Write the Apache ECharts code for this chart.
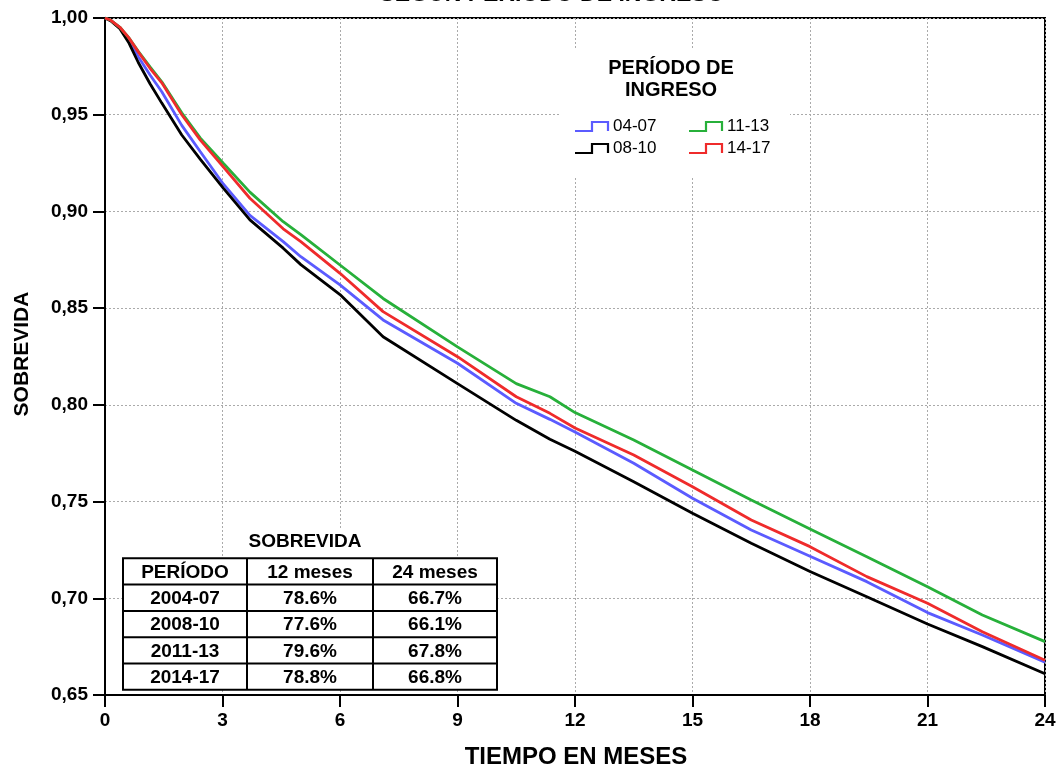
<!DOCTYPE html>
<html>
<head>
<meta charset="utf-8">
<script src="https://cdn.jsdelivr.net/npm/echarts@6/dist/echarts.min.js"></script>
<style>
html,body{margin:0;padding:0;background:#fff;}
#chart{width:1062px;height:772px;}
</style>
</head>
<body>
<div id="chart"></div>
<script>
// ---- data ----
const months = [0, 0.15, 0.38, 0.6, 0.85, 1.15, 1.45, 1.96, 2.43, 3.02, 3.7, 4.55, 5.0, 6.0, 7.1, 9.0, 10.5, 11.36, 12.0, 13.5, 15.0, 16.5, 18.0, 19.45, 21.0, 22.4, 24.0];
const seriesNames = ['04-07', '08-10', '11-13', '14-17'];
const surv0407 = [1, 0.9987, 0.995, 0.989, 0.980, 0.9705, 0.9619, 0.9445, 0.931, 0.9142, 0.898, 0.8844, 0.8766, 0.862, 0.8439, 0.8215, 0.8008, 0.7925, 0.786, 0.7698, 0.7517, 0.7353, 0.7217, 0.7086, 0.6926, 0.681, 0.667];
const surv0810 = [1, 0.9985, 0.9945, 0.9875, 0.977, 0.966, 0.956, 0.9395, 0.927, 0.912, 0.8956, 0.881, 0.8725, 0.857, 0.8352, 0.811, 0.792, 0.7822, 0.776, 0.7603, 0.744, 0.7284, 0.7138, 0.7008, 0.6867, 0.675, 0.661];
const surv1113 = [1, 0.9988, 0.9952, 0.990, 0.9828, 0.9748, 0.967, 0.951, 0.938, 0.9249, 0.910, 0.8947, 0.888, 0.8723, 0.855, 0.830, 0.811, 0.8042, 0.796, 0.7818, 0.7663, 0.7508, 0.7358, 0.7215, 0.706, 0.6914, 0.6776];
const surv1417 = [1, 0.9988, 0.9952, 0.990, 0.9825, 0.974, 0.9665, 0.950, 0.937, 0.923, 0.9068, 0.891, 0.8844, 0.868, 0.8482, 0.8249, 0.8042, 0.7956, 0.788, 0.7741, 0.7577, 0.7405, 0.7267, 0.7112, 0.6974, 0.6827, 0.668];
const xTicks = [0, 3, 6, 9, 12, 15, 18, 21, 24];
const yTicks = [0.65, 0.70, 0.75, 0.80, 0.85, 0.90, 0.95, 1.00];
const tablePeriods = ['2004-07', '2008-10', '2011-13', '2014-17'];
const table12 = ['78.6%', '77.6%', '79.6%', '78.8%'];
const table24 = ['66.7%', '66.1%', '67.8%', '66.8%'];
const tableHeader = ['PERÍODO', '12 meses', '24 meses'];

const FONT = '"Liberation Sans", Arial, sans-serif';
const colors = ['#5b5bff', '#000000', '#27b03a', '#ef2b2b'];
const allSurv = [surv0407, surv0810, surv1113, surv1417];

const chart = echarts.init(document.getElementById('chart'), null, {renderer: 'canvas'});

const series = seriesNames.map((name, i) => ({
  name: name,
  type: 'line',
  showSymbol: false,
  symbol: 'none',
  data: months.map((m, j) => [m, allSurv[i][j]]),
  lineStyle: {color: colors[i], width: 2.8},
  itemStyle: {color: colors[i]},
  z: 3 + i,
  animation: false
}));

// graphic elements
const graphic = [];
// title (cut off at top)
graphic.push({type: 'text', x: 552, y: -5, style: {text: 'SEGÚN PERÍODO DE INGRESO', font: 'bold 23px ' + FONT, fill: '#000', textAlign: 'center', textVerticalAlign: 'middle'}, z: 10});
// axis titles
graphic.push({type: 'text', x: 576, y: 757, style: {text: 'TIEMPO EN MESES', font: 'bold 24px ' + FONT, fill: '#000', textAlign: 'center', textVerticalAlign: 'middle'}, z: 10});
graphic.push({type: 'text', x: 22, y: 354, rotation: Math.PI / 2, style: {text: 'SOBREVIDA', font: 'bold 21px ' + FONT, fill: '#000', textAlign: 'center', textVerticalAlign: 'middle'}, z: 10});

// legend box
graphic.push({type: 'rect', shape: {x: 561, y: 48, width: 229, height: 129}, style: {fill: '#fff'}, z: 5});
graphic.push({type: 'text', x: 671, y: 68, style: {text: 'PERÍODO DE', font: 'bold 20px ' + FONT, fill: '#000', textAlign: 'center', textVerticalAlign: 'middle'}, z: 10});
graphic.push({type: 'text', x: 671, y: 90, style: {text: 'INGRESO', font: 'bold 20px ' + FONT, fill: '#000', textAlign: 'center', textVerticalAlign: 'middle'}, z: 10});
seriesNames.forEach((name, i) => {
  const col = Math.floor(i / 2), row = i % 2;
  const x0 = 575 + col * 114, yc = 126 + row * 22;
  graphic.push({type: 'polyline', shape: {points: [[x0, yc + 5], [x0 + 17, yc + 5], [x0 + 17, yc - 4], [x0 + 33, yc - 4], [x0 + 33, yc + 5]]}, style: {stroke: colors[i], lineWidth: 2.2, fill: null}, z: 10});
  graphic.push({type: 'text', x: x0 + 38, y: yc, style: {text: name, font: '17px ' + FONT, fill: '#000', textAlign: 'left', textVerticalAlign: 'middle'}, z: 10});
});

// survival table
const tX = [123, 247, 373, 497];
const rowH = 26.3, tTop = 558.3;
graphic.push({type: 'rect', shape: {x: 228, y: 528, width: 155, height: 28}, style: {fill: '#fff'}, z: 5});
graphic.push({type: 'text', x: 305, y: 542, style: {text: 'SOBREVIDA', font: 'bold 19px ' + FONT, fill: '#000', textAlign: 'center', textVerticalAlign: 'middle'}, z: 10});
graphic.push({type: 'rect', shape: {x: tX[0], y: tTop, width: tX[3] - tX[0], height: rowH * 5}, style: {fill: '#fff', stroke: '#000', lineWidth: 2}, z: 6});
for (let r = 1; r < 5; r++) {
  graphic.push({type: 'line', shape: {x1: tX[0], y1: tTop + r * rowH, x2: tX[3], y2: tTop + r * rowH}, style: {stroke: '#000', lineWidth: 2}, z: 7});
}
for (let c = 1; c < 3; c++) {
  graphic.push({type: 'line', shape: {x1: tX[c], y1: tTop, x2: tX[c], y2: tTop + 5 * rowH}, style: {stroke: '#000', lineWidth: 2}, z: 7});
}
const rows = [tableHeader].concat(tablePeriods.map((p, i) => [p, table12[i], table24[i]]));
rows.forEach((rw, r) => {
  rw.forEach((txt, c) => {
    graphic.push({type: 'text', x: (tX[c] + tX[c + 1]) / 2, y: tTop + r * rowH + rowH / 2 + 1, style: {text: txt, font: 'bold 19px ' + FONT, fill: '#000', textAlign: 'center', textVerticalAlign: 'middle'}, z: 10});
  });
});

const option = {
  backgroundColor: '#fff',
  animation: false,
  grid: {left: 105, right: 17, top: 18, bottom: 77, show: true, borderColor: '#000', borderWidth: 2, backgroundColor: 'transparent'},
  xAxis: {
    type: 'value', min: xTicks[0], max: xTicks[xTicks.length - 1], interval: 3,
    axisLine: {show: true, onZero: false, lineStyle: {color: '#000', width: 2}},
    axisTick: {show: true, length: 12, lineStyle: {color: '#000', width: 2}},
    axisLabel: {margin: 16, color: '#000', fontFamily: FONT, fontWeight: 'bold', fontSize: 19},
    splitLine: {show: true, lineStyle: {color: '#aaa', width: 1, type: [2, 2]}}
  },
  yAxis: {
    type: 'value', min: yTicks[0], max: yTicks[yTicks.length - 1], interval: 0.05,
    axisLine: {show: true, onZero: false, lineStyle: {color: '#000', width: 2}},
    axisTick: {show: true, length: 12, lineStyle: {color: '#000', width: 2}},
    axisLabel: {margin: 17, color: '#000', fontFamily: FONT, fontWeight: 'bold', fontSize: 19,
      formatter: v => v.toFixed(2).replace('.', ',')},
    splitLine: {show: true, lineStyle: {color: '#aaa', width: 1, type: [2, 2]}}
  },
  series: series,
  graphic: graphic
};
chart.setOption(option);
</script>
</body>
</html>
